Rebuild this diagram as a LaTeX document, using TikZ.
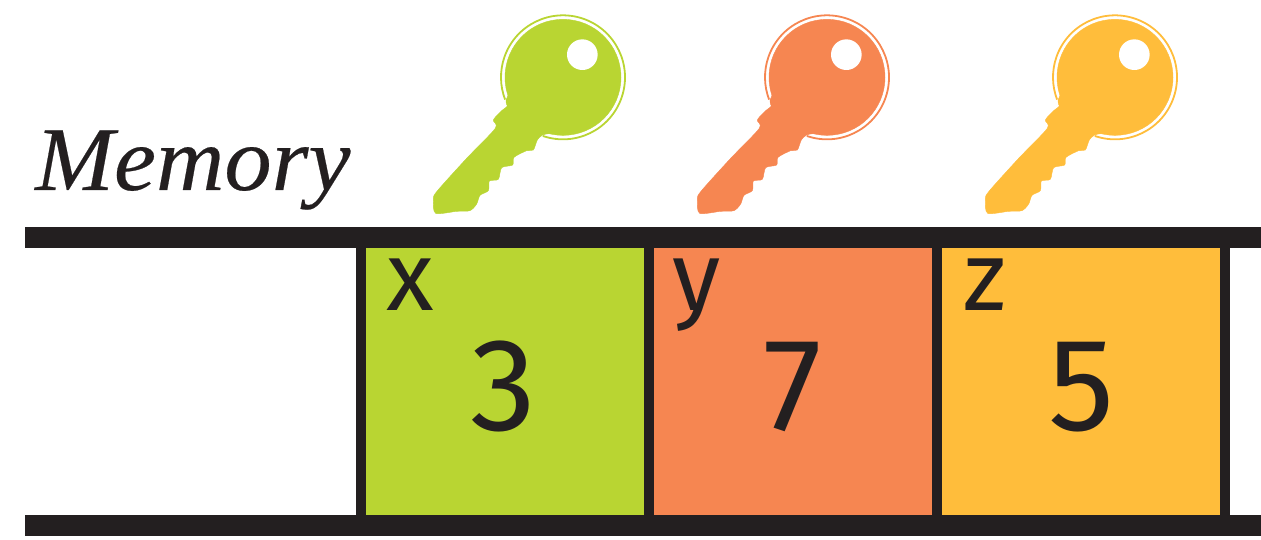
\documentclass[tikz,border=0pt]{standalone}
\usepackage{fontspec}
\setmainfont{Liberation Serif}[ItalicFeatures={FakeBold=0.25,FakeStretch=1.04}]
\newfontfamily\cellfont{Fira Sans}
\definecolor{ink}{HTML}{231F20}
\definecolor{keygreen}{HTML}{B9D532}
\definecolor{keyorange}{HTML}{F68651}
\definecolor{keyyellow}{HTML}{FFBD3B}
\tikzset{
  bar/.style={fill=ink,draw=none},
  cell/.style={draw=none,inner sep=0pt,minimum width=278pt,minimum height=267pt,anchor=north west},
  namelabel/.style={font=\cellfont\fontsize{98}{98}\selectfont,text=ink,inner sep=0pt,anchor=base},
  valuelabel/.style={font=\cellfont\fontsize{132}{132}\selectfont,text=ink,inner sep=0pt,anchor=base},
  titlelabel/.style={font=\itshape\fontsize{91}{91}\selectfont,text=ink,inner sep=0pt,anchor=base west},
  keyshape/.pic={
    \begin{scope}[x=1pt/3,y=-1pt/3]
      \fill[pic actions] (429,232) circle (174);
      \fill[pic actions] plot[smooth cycle,tension=0.45] coordinates {
        (300,250) (258,300) (262,318) (245,332) (220,360) (226,385) (140,475) (50,575) (40,600)
        (47,640) (110,634) (150,632) (170,612) (180,586) (205,572) (208,543) (235,538)
        (245,503) (278,495) (282,472) (320,452) (340,450) (352,420) (368,405) (420,380)};
      \draw[pic actions,fill=none,line width=1.8pt] (429,232) ++(109:186) arc[start angle=109,end angle=-201,radius=186];
      \fill[white] (487,164) circle (46);
    \end{scope}
  }
}
\begin{document}
\begin{tikzpicture}[x=1pt,y=-1pt]
\useasboundingbox (0,0) rectangle (1261,540);
\node[cell,fill=keygreen] (cellx) at (366,248) {};
\node[cell,fill=keyorange] (celly) at (654,248) {};
\node[cell,fill=keyyellow] (cellz) at (942,248) {};
\fill[bar] (25,227) rectangle (1261,248);
\fill[bar] (25,515) rectangle (1261,536);
\foreach \vx in {356,644,932,1220} \fill[bar] (\vx,248) rectangle (\vx+10,515);
\node[titlelabel] (title) at (35,190) {Memory};
\node[namelabel] (namex) at (410,310) {x};
\node[namelabel] (namey) at (697,310) {y};
\node[namelabel] (namez) at (985,310) {z};
\node[valuelabel] (valx) at (503,430) {3};
\node[valuelabel] (valy) at (793,430) {7};
\node[valuelabel] (valz) at (1082,430) {5};
\pic[fill=keygreen,draw=keygreen] at (420,0) {keyshape};
\pic[fill=keyorange,draw=keyorange] at (684,0) {keyshape};
\pic[fill=keyyellow,draw=keyyellow] at (972,0) {keyshape};
\end{tikzpicture}
\end{document}
